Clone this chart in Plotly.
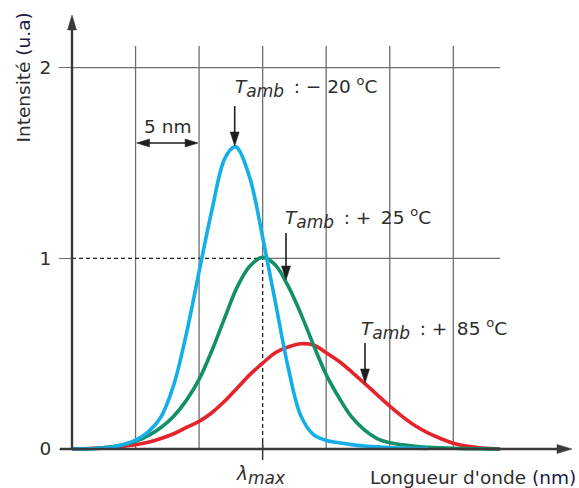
import plotly.graph_objects as go

# ---------------- data (wavelength offset in nm from the axis origin, intensity in a.u.) ----------------
BLUE_X = [0, 1, 2, 3, 4, 5, 6, 7, 8, 9, 10, 11, 12, 12.77, 13, 14, 15, 16, 17, 18, 19, 20,
          21, 22, 23, 24, 25, 26, 27, 28]
BLUE_Y = [0, 0.001, 0.003, 0.008, 0.022, 0.046, 0.09, 0.168, 0.335, 0.605, 0.93, 1.25, 1.52,
          1.585, 1.58, 1.42, 1.11, 0.77, 0.43, 0.175, 0.075, 0.045, 0.033, 0.023, 0.016,
          0.011, 0.008, 0.005, 0.004, 0.003]

GREEN_X = [0, 1, 2, 3, 4, 5, 6, 7, 8, 9, 10, 11, 12, 13, 14, 15, 16, 17, 18, 19, 20, 21, 22,
           23, 24, 25, 26, 27, 28, 29, 30, 31, 32, 33, 33.68]
GREEN_Y = [0, 0.001, 0.004, 0.01, 0.022, 0.04, 0.07, 0.113, 0.172, 0.255, 0.365, 0.515, 0.685,
           0.85, 0.96, 1.005, 0.965, 0.855, 0.71, 0.545, 0.39, 0.27, 0.168, 0.10, 0.055,
           0.033, 0.022, 0.014, 0.009, 0.006, 0.004, 0.002, 0.001, 0, 0]

RED_X = [0, 1, 2, 3, 4, 5, 6, 7, 8, 9, 10, 11, 12, 13, 14, 15, 16, 17, 18, 19, 20, 21, 22,
         23, 24, 25, 26, 27, 28, 29, 30, 31, 32, 33, 33.68]
RED_Y = [0, 0.001, 0.004, 0.009, 0.015, 0.022, 0.035, 0.055, 0.08, 0.113, 0.145, 0.19, 0.25,
         0.32, 0.39, 0.45, 0.505, 0.535, 0.552, 0.545, 0.505, 0.46, 0.405, 0.345, 0.285,
         0.225, 0.17, 0.122, 0.085, 0.055, 0.03, 0.015, 0.007, 0.002, 0]

GRID_X = [5, 10, 15, 20, 25, 30]
LAMBDA_MAX = 15
Y_TICKS = [0, 1, 2]
Y_TICK_TEXT = ["0", "1", "2"]
SUB = "<sub><span style='font-size:17px'><i>amb</i></span></sub>"
NB = "\u00a0"
TH = "\u2009"
LABEL_BLUE = f"<i>T</i>{SUB}{NB}{TH}:{NB}\u2212{NB}20{NB}<sup>o</sup>C"
LABEL_GREEN = f"<i>T</i>{SUB}{NB}{TH}:{NB}+{NB}{TH}25{NB}<sup>o</sup>C"
LABEL_RED = f"<i>T</i>{SUB}{NB}{TH}:{NB}+{NB}{TH}85{NB}<sup>o</sup>C"
LAMBDA_LABEL = "<i>λ</i><sub><span style='font-size:17px'><i>max</i></span></sub>"
X_TITLE = "Longueur d'onde <span style='color:#1c1c44'>(nm)</span>"
Y_TITLE = "Intensité <span style='color:#1c1c44'>(u.a)</span>"
SPAN_LABEL = "5 nm"

# ---------------- geometry ----------------
W, H = 579, 488
ML, MR, MT, MB = 72, 5, 5, 1
PW, PH = W - ML - MR, H - MT - MB
PX_PER_NM = 12.71
PX_PER_U = 190.7
Y0_PX = 449
X_RANGE = [0, PW / PX_PER_NM]
Y_RANGE = [-(H - MB - Y0_PX) / PX_PER_U, (Y0_PX - MT) / PX_PER_U]


def PX(px):
    return (px - ML) / PW


def PY(py):
    return (H - MB - py) / PH


def xpx(nm):
    return ML + nm * PX_PER_NM


AX_COL = "#3a3a3a"
GRID_COL = "#6f6f6f"
TXT_COL = "#2e2e2e"
FONT = "DejaVu Sans"

fig = go.Figure()
for xs, ys, col in [(RED_X, RED_Y, "#e5232b"), (GREEN_X, GREEN_Y, "#13906a"),
                    (BLUE_X, BLUE_Y, "#14aee8")]:
    fig.add_trace(go.Scatter(x=xs, y=ys, mode="lines", hoverinfo="skip", showlegend=False,
                             line=dict(color=col, width=3.6, shape="spline", smoothing=1.0)))

shapes = []
top_grid = 2.113
for gx in GRID_X:
    y_start = 1 if gx == LAMBDA_MAX else 0
    shapes.append(dict(type="line", xref="x", yref="y", x0=gx, x1=gx, y0=y_start, y1=top_grid,
                       line=dict(color=GRID_COL, width=1.3), layer="below"))
x_end = 33.68
shapes.append(dict(type="line", xref="x", yref="y", x0=0, x1=x_end, y0=2, y1=2,
                   line=dict(color=GRID_COL, width=1.3), layer="below"))
shapes.append(dict(type="line", xref="x", yref="y", x0=LAMBDA_MAX, x1=x_end, y0=1, y1=1,
                   line=dict(color=GRID_COL, width=1.3), layer="below"))
# dashed guides
shapes.append(dict(type="line", xref="x", yref="y", x0=0, x1=LAMBDA_MAX, y0=1, y1=1,
                   line=dict(color="#222", width=1.3, dash="4px,3px"), layer="below"))
shapes.append(dict(type="line", xref="x", yref="y", x0=LAMBDA_MAX, x1=LAMBDA_MAX, y0=0, y1=1,
                   line=dict(color="#222", width=1.3, dash="4px,3px"), layer="below"))
# tick under lambda max
shapes.append(dict(type="line", xref="x", yref="y", x0=LAMBDA_MAX, x1=LAMBDA_MAX,
                   y0=0.04, y1=-0.058, line=dict(color=AX_COL, width=1.5)))


def seg(x0, y0, x1, y1, col=AX_COL, w=1.6):
    shapes.append(dict(type="line", xref="paper", yref="paper", x0=PX(x0), y0=PY(y0),
                       x1=PX(x1), y1=PY(y1), line=dict(color=col, width=w)))


def head(tx, ty, direction, length=14, hw=4.5, col="#1e1e1e"):
    if direction == "down":
        pts = [(tx - hw, ty - length), (tx + hw, ty - length), (tx, ty)]
    elif direction == "up":
        pts = [(tx - hw, ty + length), (tx + hw, ty + length), (tx, ty)]
    elif direction == "right":
        pts = [(tx - length, ty - hw), (tx - length, ty + hw), (tx, ty)]
    else:
        pts = [(tx + length, ty - hw), (tx + length, ty + hw), (tx, ty)]
    path = "M " + " L ".join(f"{PX(a):.5f},{PY(b):.5f}" for a, b in pts) + " Z"
    shapes.append(dict(type="path", xref="paper", yref="paper", path=path,
                       fillcolor=col, line=dict(color=col, width=0.5)))


# main axes
seg(ML, Y0_PX, ML, 28, AX_COL, 2.4)
head(ML, 15, "up", 15, 4.5, AX_COL)
seg(60, Y0_PX, 560, Y0_PX, AX_COL, 2.4)
head(572, Y0_PX, "right", 15, 4.5, AX_COL)

# 5 nm double arrow
yy = 143
seg(xpx(5) + 8, yy, xpx(10) - 8, yy, "#1e1e1e", 1.6)
head(xpx(5) + 1, yy, "left", 13, 4)
head(xpx(10) - 1, yy, "right", 13, 4)

# temperature arrows
for ax_px, y_top, y_tip in [(234.7, 106, 146), (286, 233, 280), (365, 343, 383)]:
    seg(ax_px, y_top, ax_px, y_tip - 10, "#1e1e1e", 1.6)
    head(ax_px, y_tip, "down", 14, 4.5)

ann = []


def text(t, x, y, xa="center", ya="middle", size=18.5, angle=0, col=TXT_COL):
    ann.append(dict(text=t, xref="paper", yref="paper", x=PX(x), y=PY(y), xanchor=xa,
                    yanchor=ya, showarrow=False, textangle=angle,
                    font=dict(family=FONT, size=size, color=col)))


text(SPAN_LABEL, 167.5, 126)
text(LABEL_BLUE, 233, 87, xa="left")
text(LABEL_GREEN, 283, 218, xa="left")
text(LABEL_RED, 358.5, 329, xa="left")
text(LAMBDA_LABEL, 261, 475)
text(X_TITLE, 578, 477, xa="right")
text(Y_TITLE, 23, 77.5, angle=-90)

fig.update_layout(
    width=W, height=H, margin=dict(l=ML, r=MR, t=MT, b=MB),
    paper_bgcolor="white", plot_bgcolor="white",
    shapes=shapes, annotations=ann,
    xaxis=dict(range=X_RANGE, showgrid=False, zeroline=False, showline=False,
               showticklabels=False, ticks=""),
    yaxis=dict(range=Y_RANGE, showgrid=False, zeroline=False, showline=False,
               tickvals=Y_TICKS, ticktext=Y_TICK_TEXT, ticks="outside", ticklen=12,
               tickwidth=1.3, tickcolor=GRID_COL, ticklabelstandoff=4,
               tickfont=dict(family=FONT, size=18.5, color=TXT_COL)),
)

fig.write_html("out.html", config={"displayModeBar": False},
               post_script="document.body.style.margin='0px';")
